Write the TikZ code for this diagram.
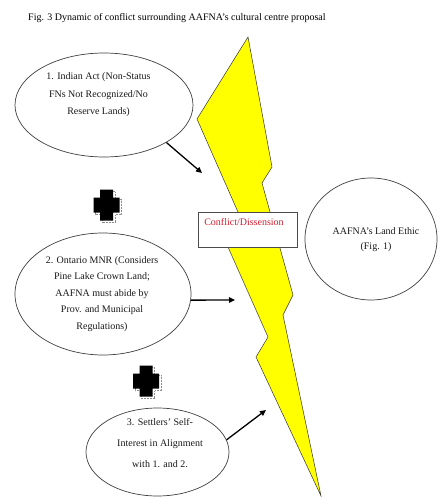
\documentclass[tikz,border=0pt]{standalone}
\usepackage{fontspec}
\setmainfont{Liberation Serif}
\usetikzlibrary{arrows.meta,shapes.geometric}
\definecolor{boltyellow}{HTML}{FFFF00}
\definecolor{conflictred}{HTML}{D02030}
\begin{document}
\begin{tikzpicture}[x=1pt,y=-1pt,
  ell/.style={ellipse,draw=black!75,line width=0.7pt,inner sep=0pt},
  etext/.style={align=center,inner sep=0pt,text=black!90},
  arr/.style={line width=1.3pt,-{Triangle[length=6pt,width=5.5pt]}},
  plussign/.pic={
    \draw[black!45,densely dotted,line width=0.5pt,shift={(2,2)}]
      (-6.5,-15.5) -- (6.5,-15.5) -- (6.5,-7.5) -- (13,-7.5) -- (13,7.5) -- (6.5,7.5) -- (6.5,15.5) -- (-6.5,15.5) -- (-6.5,7.5) -- (-13,7.5) -- (-13,-7.5) -- (-6.5,-7.5) -- cycle;
    \fill[black]
      (-6.5,-15.5) -- (6.5,-15.5) -- (6.5,-7.5) -- (13,-7.5) -- (13,7.5) -- (6.5,7.5) -- (6.5,15.5) -- (-6.5,15.5) -- (-6.5,7.5) -- (-13,7.5) -- (-13,-7.5) -- (-6.5,-7.5) -- cycle;
  }]
\useasboundingbox (0,0) rectangle (441,497);
\fill[white] (0,0) rectangle (441,497);

% title
\node[anchor=base west,inner sep=0pt,font=\fontsize{10}{12}\selectfont] (title) at (28,21)
  {Fig. 3 Dynamic of conflict surrounding AAFNA’s cultural centre proposal};

% lightning bolt
\filldraw[fill=boltyellow,draw=black!80,line width=0.5pt]
  (248,37) -- (272,167) -- (262,183) -- (293,295) -- (283,315) -- (321,496)
  -- (256,357) -- (268,337) -- (224,238) -- (241.5,220) -- (197,119) -- cycle;

% conflict box
\node[draw=black!70,fill=white,line width=1pt,minimum width=99pt,minimum height=35pt,inner sep=0pt] (box) at (247.5,229.5) {};
\node[text=conflictred,inner sep=0pt,font=\fontsize{10}{12}\selectfont] (boxtext) at (244,222) {Conflict/Dissension};

% ellipses
\node[ell,minimum width=178pt,minimum height=104pt] (e1) at (104,105) {};
\node[etext,font=\fontsize{10}{17.5}\selectfont] (t1) at (98.5,95)
  {1. Indian Act (Non-Status\\FNs Not Recognized/No\\Reserve Lands)};

\node[ell,minimum width=176pt,minimum height=122pt] (e2) at (103,294) {};
\node[etext,font=\fontsize{10}{16.5}\selectfont] (t2) at (102,294)
  {2. Ontario MNR (Considers\\Pine Lake Crown Land;\\AAFNA must abide by\\Prov. and Municipal\\Regulations)};

\node[ell,minimum width=143pt,minimum height=88pt] (e3) at (157.5,452) {};
\node[etext,font=\fontsize{10}{21}\selectfont] (t3) at (160,443)
  {3. Settlers' Self-\\Interest in Alignment\\with 1. and 2.};

\node[ell,minimum width=132pt,minimum height=122pt] (e4) at (371,239) {};
\node[etext,font=\fontsize{10}{15}\selectfont] (t4) at (376,240)
  {AAFNA’s Land Ethic\\(Fig. 1)};

% plus signs
\pic (p1) at (106.5,205) {plussign};
\pic (p2) at (146,381) {plussign};

% arrows
\coordinate (a1) at (202,173);
\coordinate (a2) at (235,300);
\coordinate (a3) at (266,410);
\draw[arr] (e1.-31) -- (a1);
\draw[arr] (e2.-4) -- (a2);
\draw[arr] (e3.10) -- (a3);
\end{tikzpicture}
\end{document}
